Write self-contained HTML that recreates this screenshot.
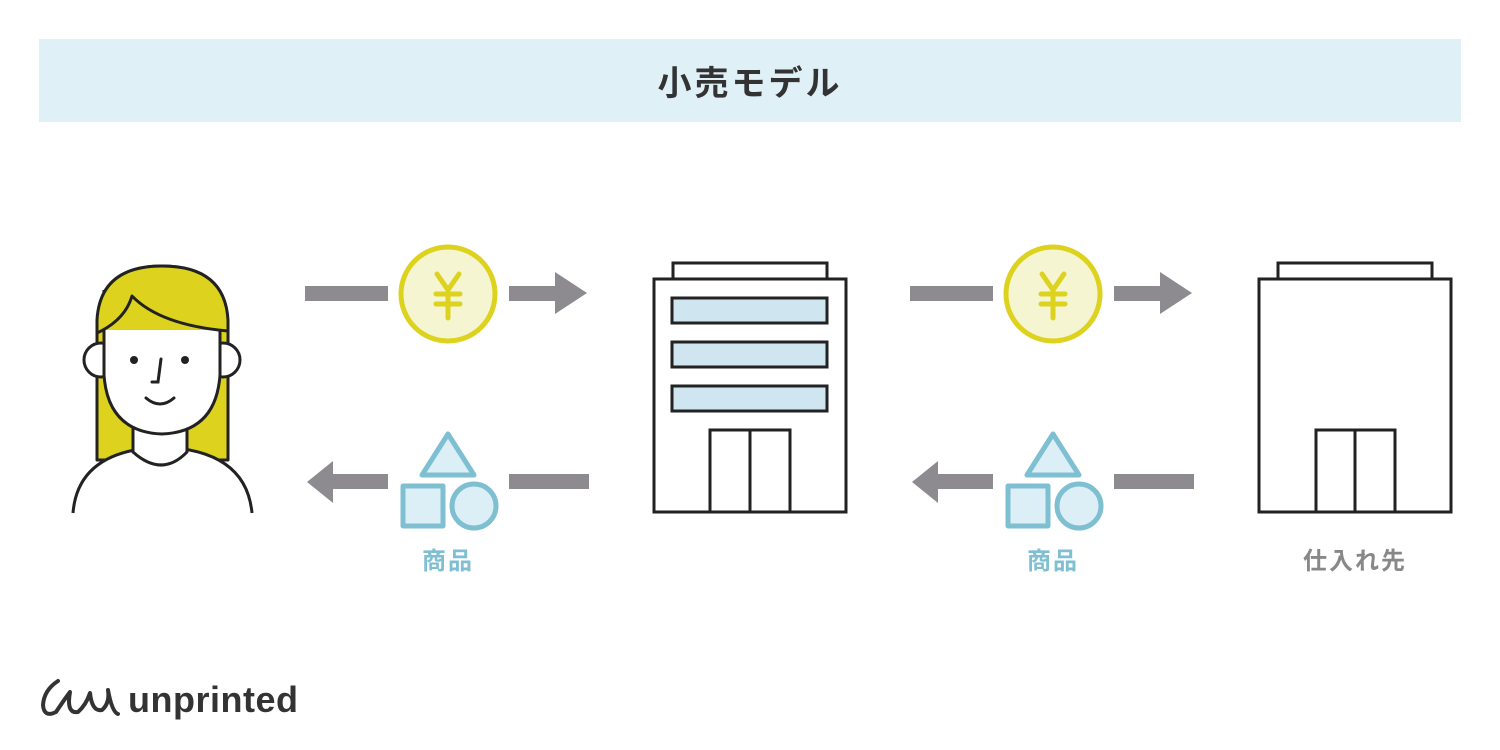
<!DOCTYPE html>
<html><head><meta charset="utf-8"><style>
html,body{margin:0;padding:0;background:#fff;}
svg{display:block;}
text{font-family:"Liberation Sans","Noto Sans CJK JP",sans-serif;}
</style></head><body>
<svg width="1500" height="750" viewBox="0 0 1500 750" xmlns="http://www.w3.org/2000/svg">
<rect x="39" y="39" width="1422" height="83" fill="#dff0f7"/>
<text x="750" y="95" text-anchor="middle" font-size="34" font-weight="bold" fill="#333" letter-spacing="3">小売モデル</text>

<!-- person -->
<g stroke="#222" stroke-width="3" stroke-linejoin="round">
<path d="M97 460 L97 330 Q97 266 162 266 Q228 266 228 330 L228 460 Z" fill="#ddd21e"/>
<path d="M73 513 Q78 450 162 447 Q246 450 252 513" fill="#fff"/>
<path d="M133 420 L133 452 Q162 478 187 452 L187 420 Z" fill="#fff"/>
<circle cx="101" cy="360" r="17" fill="#fff"/>
<circle cx="223" cy="360" r="17" fill="#fff"/>
<path d="M104 330 L104 375 Q108 432 162 434 Q216 432 220 375 L220 330 Z" fill="#fff" stroke="none"/>
<path d="M104 290 L104 375 Q108 432 162 434 Q216 432 220 375 L220 330" fill="none"/>
<path d="M97 333 Q125 320 132 296 Q160 325 228 331 L228 320 Q225 266 162 266 Q100 266 97 320 Z" fill="#ddd21e"/>
</g>
<g fill="none" stroke="#222" stroke-width="3" stroke-linecap="round">
<path d="M161 359 L158 382 L152 382"/>
<path d="M146 398 Q160 410 174 398"/>
</g>
<circle cx="134" cy="360" r="4" fill="#222"/>
<circle cx="185" cy="360" r="4" fill="#222"/>

<g>
<g fill="#8e8b90">
<rect x="305" y="286" width="83" height="15"/>
<path d="M509 286 L555 286 L555 272 L587 293 L555 314 L555 301 L509 301 Z"/>
<path d="M388 474 L333 474 L333 461 L307 482 L333 503 L333 489 L388 489 Z"/>
<rect x="509" y="474" width="80" height="15"/>
</g>
<circle cx="448" cy="294" r="47" fill="#f5f5d2" stroke="#ddd21e" stroke-width="5"/>
<g stroke="#ddd21e" stroke-width="5" fill="none" stroke-linecap="round"><path d="M437 274 L448 290 L459 274 M448 290 L448 318 M436 294 L460 294 M436 304 L460 304"/></g>
<g fill="#dceef6" stroke="#7fbfd2" stroke-width="5" stroke-linejoin="round">
<path d="M448 434 L474 475 L422 475 Z"/>
<rect x="403" y="486" width="40" height="40"/>
<circle cx="474" cy="506" r="22"/>
</g>
<text x="448" y="569" text-anchor="middle" font-size="24" font-weight="bold" fill="#7fbfd2" letter-spacing="2">商品</text>
</g>

<g transform="translate(605,0)">
<g fill="#8e8b90">
<rect x="305" y="286" width="83" height="15"/>
<path d="M509 286 L555 286 L555 272 L587 293 L555 314 L555 301 L509 301 Z"/>
<path d="M388 474 L333 474 L333 461 L307 482 L333 503 L333 489 L388 489 Z"/>
<rect x="509" y="474" width="80" height="15"/>
</g>
<circle cx="448" cy="294" r="47" fill="#f5f5d2" stroke="#ddd21e" stroke-width="5"/>
<g stroke="#ddd21e" stroke-width="5" fill="none" stroke-linecap="round"><path d="M437 274 L448 290 L459 274 M448 290 L448 318 M436 294 L460 294 M436 304 L460 304"/></g>
<g fill="#dceef6" stroke="#7fbfd2" stroke-width="5" stroke-linejoin="round">
<path d="M448 434 L474 475 L422 475 Z"/>
<rect x="403" y="486" width="40" height="40"/>
<circle cx="474" cy="506" r="22"/>
</g>
<text x="448" y="569" text-anchor="middle" font-size="24" font-weight="bold" fill="#7fbfd2" letter-spacing="2">商品</text>
</g>

<!-- building 1 -->
<g stroke="#222" stroke-width="3" fill="#fff">
<rect x="673" y="263" width="154" height="16"/>
<rect x="654" y="279" width="192" height="233"/>
<rect x="672" y="298" width="155" height="25" fill="#cfe6f0"/>
<rect x="672" y="342" width="155" height="25" fill="#cfe6f0"/>
<rect x="672" y="386" width="155" height="25" fill="#cfe6f0"/>
<rect x="710" y="430" width="80" height="82"/>
<line x1="750" y1="430" x2="750" y2="512"/>
</g>
<!-- building 2 -->
<g stroke="#222" stroke-width="3" fill="#fff">
<rect x="1278" y="263" width="154" height="16"/>
<rect x="1259" y="279" width="192" height="233"/>
<rect x="1316" y="430" width="79" height="82"/>
<line x1="1355" y1="430" x2="1355" y2="512"/>
</g>
<text x="1355" y="569" text-anchor="middle" font-size="24" font-weight="bold" fill="#888" letter-spacing="2">仕入れ先</text>

<!-- logo -->
<path d="M58 681 Q44 690 43 705 Q44 718 56 712 Q64 700 70 692 Q66 714 78 712 Q86 705 90 693 Q92 712 102 710 Q110 703 108 690 Q112 712 118 714" fill="none" stroke="#333" stroke-width="4" stroke-linecap="round" stroke-linejoin="round"/>
<text x="128" y="712" font-size="36" fill="#333" font-weight="bold" font-family="'DejaVu Sans','Liberation Sans',sans-serif" letter-spacing="0.5">unprinted</text>
</svg>
</body></html>
